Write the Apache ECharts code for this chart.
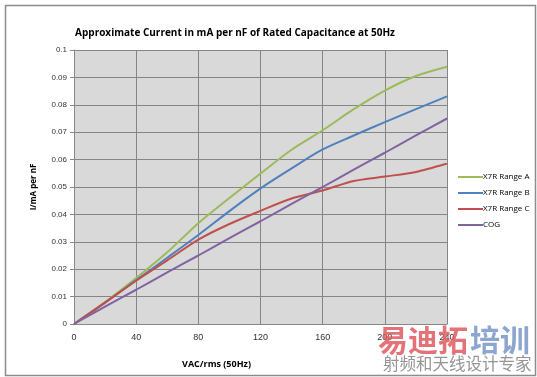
<!DOCTYPE html>
<html>
<head>
<meta charset="utf-8">
<script src="https://cdn.jsdelivr.net/npm/echarts@6/dist/echarts.min.js"></script>
<style>
  html, body { margin: 0; padding: 0; background: #fff; }
  #chart { width: 537px; height: 377px; }
</style>
</head>
<body>
<div id="chart"></div>
<script>
// VAC/rms 值 (50Hz)
var volts = [0, 20, 40, 60, 80, 100, 120, 140, 160, 180, 200, 220, 240];
var rangeA = [0, 0.008, 0.0168, 0.0262, 0.0368, 0.046, 0.0549, 0.0636, 0.0707, 0.0784, 0.0852, 0.0905, 0.0939];
var rangeB = [0, 0.0078, 0.016, 0.0242, 0.0325, 0.0412, 0.0495, 0.0568, 0.0637, 0.0688, 0.0737, 0.0784, 0.0831];
var rangeC = [0, 0.0078, 0.0158, 0.0232, 0.0308, 0.0365, 0.0413, 0.0458, 0.0487, 0.0522, 0.0538, 0.0555, 0.0586];
var cog = [0, 0.0063, 0.0125, 0.0188, 0.025, 0.0313, 0.0375, 0.0438, 0.05, 0.0563, 0.0625, 0.0688, 0.075];
var seriesNames = ['X7R Range A', 'X7R Range B', 'X7R Range C', 'COG'];
var seriesColors = ['#9bbb59', '#4f81bd', '#c0504d', '#8064a2'];

function pairs(ys) {
    return volts.map(function (v, i) { return [v, ys[i]]; });
}

var myChart = echarts.init(document.getElementById('chart'));
var labelFont = 'Liberation Sans';
var option = {
    animation: false,
    color: seriesColors,
    title: {
        text: 'Approximate Current in mA per nF of Rated Capacitance at 50Hz',
        left: 230,
        top: 23,
        textAlign: 'center',
        textStyle: {
            fontFamily: 'Open Sans',
            fontWeight: 'bold',
            fontSize: 10,
            color: '#000'
        }
    },
    legend: {
        orient: 'vertical',
        left: 453,
        top: 168,
        itemWidth: 25,
        itemHeight: 2,
        itemGap: 8,
        icon: 'rect',
        data: seriesNames,
        textStyle: { fontFamily: 'Open Sans', fontSize: 8, color: '#000', padding: [0, 0, 0, -5] }
    },
    grid: {
        left: 74,
        right: 90,
        top: 50,
        bottom: 53,
        show: true,
        backgroundColor: '#d9d9d9',
        borderWidth: 0
    },
    xAxis: {
        type: 'value',
        min: 0,
        max: 240,
        interval: 40,
        name: 'VAC/rms (50Hz)',
        nameLocation: 'middle',
        nameGap: 0,
        nameTextStyle: {
            fontFamily: 'Open Sans', fontWeight: 'bold', fontSize: 9, color: '#000',
            padding: [36, 88, 0, 0]
        },
        axisLine: { lineStyle: { color: '#888' } },
        axisTick: { show: false },
        axisLabel: { fontFamily: labelFont, fontSize: 9, color: '#333', margin: 9 },
        splitLine: { lineStyle: { color: '#858585' } }
    },
    yAxis: {
        type: 'value',
        min: 0,
        max: 0.1,
        interval: 0.01,
        name: 'I/mA per nF',
        nameLocation: 'middle',
        nameGap: 36,
        nameTextStyle: { fontFamily: 'Open Sans', fontWeight: 'bold', fontSize: 8, color: '#000' },
        axisLine: { show: true, lineStyle: { color: '#888' } },
        axisTick: { show: true, length: 4, lineStyle: { color: '#888' } },
        axisLabel: {
            fontFamily: labelFont, fontSize: 8, color: '#333', margin: 7,
            formatter: function (v) { return String(+v.toFixed(2)); }
        },
        splitLine: { lineStyle: { color: '#858585' } }
    },
    graphic: [
        {
            type: 'rect', left: 3, top: 3,
            shape: { width: 530, height: 370 },
            style: { fill: 'none', stroke: '#8c8c8c', lineWidth: 1.5 },
            silent: true
        },
        {
            type: 'text', left: 378, top: 325, z: 100,
            style: { text: '易迪拓', fontSize: 30, fontWeight: 'bold', fontFamily: 'Noto Sans CJK SC', fill: 'rgba(222,90,95,0.85)' }
        },
        {
            type: 'text', left: 470, top: 325, z: 100,
            style: { text: '培训', fontSize: 30, fontWeight: 'bold', fontFamily: 'Noto Sans CJK SC', fill: 'rgba(120,150,200,0.85)' }
        },
        {
            type: 'text', left: 383, top: 355, z: 100,
            style: { text: '射频和天线设计专家', fontSize: 16.5, fontFamily: 'Noto Sans CJK SC', fill: 'rgba(130,130,130,0.85)' }
        }
    ],
    series: [
        { name: seriesNames[0], type: 'line', smooth: 0.3, symbol: 'none', lineStyle: { width: 2 }, data: pairs(rangeA) },
        { name: seriesNames[1], type: 'line', smooth: 0.3, symbol: 'none', lineStyle: { width: 2 }, data: pairs(rangeB) },
        { name: seriesNames[2], type: 'line', smooth: 0.3, symbol: 'none', lineStyle: { width: 2 }, data: pairs(rangeC) },
        { name: seriesNames[3], type: 'line', smooth: 0.3, symbol: 'none', lineStyle: { width: 2 }, data: pairs(cog) }
    ]
};
myChart.setOption(option);
</script>
</body>
</html>
